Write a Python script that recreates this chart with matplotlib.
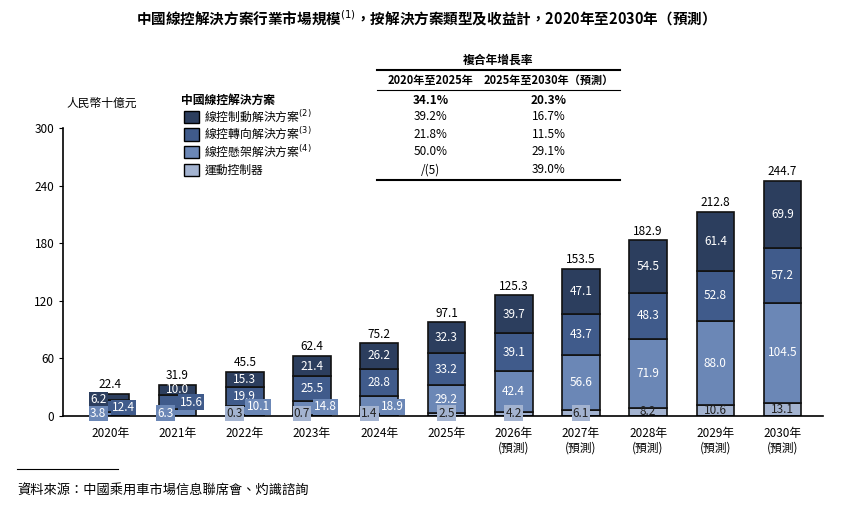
import matplotlib
matplotlib.use("Agg")
import matplotlib.pyplot as plt
import numpy as np

plt.rcParams["font.family"] = ["Noto Sans CJK TC", "DejaVu Sans"]

years = ["2020年", "2021年", "2022年", "2023年", "2024年", "2025年",
         "2026年\n(預測)", "2027年\n(預測)", "2028年\n(預測)", "2029年\n(預測)", "2030年\n(預測)"]
motion = [0.0, 0.0, 0.3, 0.7, 1.4, 2.5, 4.2, 6.1, 8.2, 10.6, 13.1]
suspension = [3.8, 6.3, 10.1, 14.8, 18.9, 29.2, 42.4, 56.6, 71.9, 88.0, 104.5]
steering = [12.4, 15.6, 19.9, 25.5, 28.8, 33.2, 39.1, 43.7, 48.3, 52.8, 57.2]
braking = [6.2, 10.0, 15.3, 21.4, 26.2, 32.3, 39.7, 47.1, 54.5, 61.4, 69.9]
totals = [22.4, 31.9, 45.5, 62.4, 75.2, 97.1, 125.3, 153.5, 182.9, 212.8, 244.7]

series_names = ["線控制動解決方案", "線控轉向解決方案", "線控懸架解決方案", "運動控制器"]
sups = ["(2)", "(3)", "(4)", ""]
cagr_a = ["34.1%", "39.2%", "21.8%", "50.0%", "/(5)"]
cagr_b = ["20.3%", "16.7%", "11.5%", "29.1%", "39.0%"]

c_brake, c_steer, c_susp, c_motion = "#2c3e5e", "#405b8b", "#6b87b6", "#a3b3d0"

fig = plt.figure(figsize=(8.44, 5.13), dpi=100)
ax = fig.add_axes([0.075, 0.19, 0.9, 0.56])
x = np.arange(len(years))
w = 0.56
stack = [(motion, c_motion), (suspension, c_susp), (steering, c_steer), (braking, c_brake)]
bottom = np.zeros(len(years))
for vals, col in stack:
    ax.bar(x, vals, w, bottom=bottom, color=col, edgecolor="#111111", linewidth=1.2)
    bottom += np.array(vals)


def boxed(xx, yy, txt, fc, color="white"):
    ax.text(xx, yy, txt, ha="center", va="center", fontsize=8.5, color=color,
            bbox=dict(boxstyle="square,pad=0.1", fc=fc, ec="none"))


for i in range(len(years)):
    m, s, st, b = motion[i], suspension[i], steering[i], braking[i]
    ax.text(i, totals[i] + 3, f"{totals[i]:.1f}", ha="center", va="bottom", fontsize=8.5)
    if i == 0:
        boxed(i - 0.18, 16.5, f"{b:.1f}", c_brake)
        boxed(i + 0.2, 8.5, f"{st:.1f}", c_steer)
        boxed(i - 0.18, 1.8, f"{s:.1f}", c_susp)
        continue
    if i == 1:
        ax.text(i, m + s + st + b / 2, f"{b:.1f}", ha="center", va="center", fontsize=8.5, color="white")
        boxed(i + 0.2, 14, f"{st:.1f}", c_steer)
        boxed(i - 0.18, 2.5, f"{s:.1f}", c_susp)
        continue
    ax.text(i, m + s + st + b / 2, f"{b:.1f}", ha="center", va="center", fontsize=8.5, color="white")
    ax.text(i, m + s + st / 2, f"{st:.1f}", ha="center", va="center", fontsize=8.5, color="white")
    if s < 20:
        boxed(i + 0.2, 9, f"{s:.1f}", c_susp)
        boxed(i - 0.15, 2.2, f"{m:.1f}", c_motion, "#222222")
    else:
        ax.text(i, m + s / 2, f"{s:.1f}", ha="center", va="center", fontsize=8.5, color="white")
        if m < 7:
            boxed(i, 2.5, f"{m:.1f}", c_motion, "#222222")
        else:
            ax.text(i, m / 2, f"{m:.1f}", ha="center", va="center", fontsize=8.5, color="#222222")

ax.set_xlim(-0.7, len(years) - 0.4)
ax.set_ylim(0, 300)
ax.set_yticks([0, 60, 120, 180, 240, 300])
ax.set_xticks(x)
ax.set_xticklabels(years, fontsize=8.5)
ax.tick_params(axis="y", labelsize=8.5, length=3)
ax.tick_params(axis="x", length=0, pad=8)
for sp in ["top", "right"]:
    ax.spines[sp].set_visible(False)
ax.spines["left"].set_linewidth(1.2)
ax.spines["bottom"].set_linewidth(1.2)
ax.text(-0.65, 322, "人民幣十億元", fontsize=8.5, style="italic", ha="left")

fig.text(0.5, 0.965, "中國線控解決方案行業市場規模$^{(1)}$，按解決方案類型及收益計，2020年至2030年（預測）",
         ha="center", va="center", fontsize=10.5, fontweight="bold")

# legend + CAGR table
fig.text(0.59, 0.883, "複合年增長率", ha="center", va="center", fontsize=8.5, fontweight="bold")
fig.add_artist(plt.Line2D([0.447, 0.735], [0.863, 0.863], color="black", lw=1.5))
fig.text(0.51, 0.844, "2020年至2025年", ha="center", va="center", fontsize=8, fontweight="bold")
fig.text(0.65, 0.844, "2025年至2030年（預測）", ha="center", va="center", fontsize=8, fontweight="bold")
fig.add_artist(plt.Line2D([0.447, 0.735], [0.825, 0.825], color="black", lw=0.8))
fig.add_artist(plt.Line2D([0.447, 0.735], [0.649, 0.649], color="black", lw=1.5))
rows_y = [0.805, 0.772, 0.738, 0.704, 0.669]
fig.text(0.215, rows_y[0], "中國線控解決方案", fontsize=8.5, fontweight="bold", va="center")
cols = [c_brake, c_steer, c_susp, c_motion]
for k in range(4):
    y = rows_y[k + 1]
    fig.add_artist(plt.Rectangle((0.218, y - 0.012), 0.018, 0.024, fc=cols[k], ec="black", lw=1))
    lab = series_names[k] + (f"$^{{{sups[k]}}}$" if sups[k] else "")
    fig.text(0.242, y, lab, fontsize=8.5, va="center")
for k in range(5):
    wt = "bold" if k == 0 else "normal"
    fig.text(0.51, rows_y[k], cagr_a[k], ha="center", va="center", fontsize=8.5, fontweight=wt)
    fig.text(0.65, rows_y[k], cagr_b[k], ha="center", va="center", fontsize=8.5, fontweight=wt)

fig.add_artist(plt.Line2D([0.02, 0.14], [0.085, 0.085], color="black", lw=0.8))
fig.text(0.02, 0.035, "資料來源：中國乘用車市場信息聯席會、灼識諮詢", fontsize=9.5, style="italic")

fig.savefig("out.png", dpi=100)
